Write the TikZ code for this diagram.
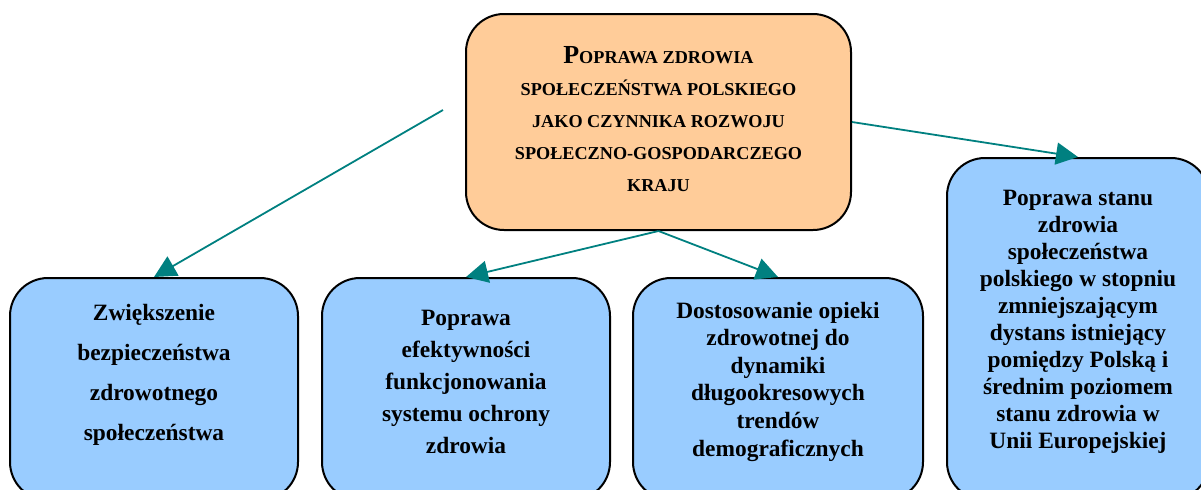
\documentclass[tikz,border=0pt]{standalone}
\usepackage{fontspec}
\setmainfont{Liberation Serif}
\usetikzlibrary{arrows.meta}
\tikzset{%
  box/.style={draw,line width=1pt,rounded corners=19pt,fill=#1,align=center,inner sep=0pt},
  box/.default=c1,
  lift/.style={text depth=#1},
  lift/.default=10pt,
  link/.style={draw=c2,line width=0.9pt,-{Triangle[length=11pt,width=11pt]}}
}
\definecolor{c0}{HTML}{FFCC99}
\definecolor{c1}{HTML}{99CCFF}
\definecolor{c2}{HTML}{008080}

\begin{document}
\begin{tikzpicture}[x=0.5pt,y=-0.5pt]
  \useasboundingbox (0,0) rectangle (1201,489);
  \clip (0,0) rectangle (1201,489);
  \node[box=c0,minimum width=192.5pt,minimum height=108pt,text depth=3pt,
    font=\fontsize{9.1pt}{16pt}\selectfont\bfseries] (m0) at (658.5,122)
    {{\fontsize{13pt}{16pt}\selectfont P}OPRAWA ZDROWIA\\
     SPOŁECZEŃSTWA POLSKIEGO\\
     JAKO CZYNNIKA ROZWOJU\\
     SPOŁECZNO-GOSPODARCZEGO\\
     KRAJU};
  \node[box,lift=17pt,minimum width=144pt,minimum height=111pt,
    font=\fontsize{11.7pt}{20pt}\selectfont\bfseries] (n0) at (154,389)
    {Zwiększenie\\ bezpieczeństwa\\ zdrowotnego\\ społeczeństwa};
  \node[box,lift=7pt,minimum width=144pt,minimum height=111pt,
    font=\fontsize{11.7pt}{16pt}\selectfont\bfseries] (n1) at (466,389)
    {Poprawa\\ efektywności\\ funkcjonowania\\ systemu ochrony\\ zdrowia};
  \node[box,lift,minimum width=145pt,minimum height=111pt,
    font=\fontsize{11.7pt}{13.8pt}\selectfont\bfseries] (n2) at (778,389)
    {Dostosowanie opieki\\ zdrowotnej do\\ dynamiki\\ długookresowych\\ trendów\\ demograficznych};
  \node[box,lift,minimum width=131pt,minimum height=171pt,
    font=\fontsize{11.7pt}{13.5pt}\selectfont\bfseries] (n3) at (1078,329)
    {Poprawa stanu\\ zdrowia\\ społeczeństwa\\ polskiego w stopniu\\ zmniejszającym\\
     dystans istniejący\\ pomiędzy Polską i\\ średnim poziomem\\ stanu zdrowia w\\ Unii Europejskiej};
  %%%
  \coordinate (p0) at (443,110);
  \draw[link] (p0) -- (n0.north);
  \draw[link] (m0.south) -- (n1.north);
  \draw[link] (m0.south) -- (n2.north);
  \draw[link] (m0.east) -- (n3.north);
\end{tikzpicture}
\end{document}
